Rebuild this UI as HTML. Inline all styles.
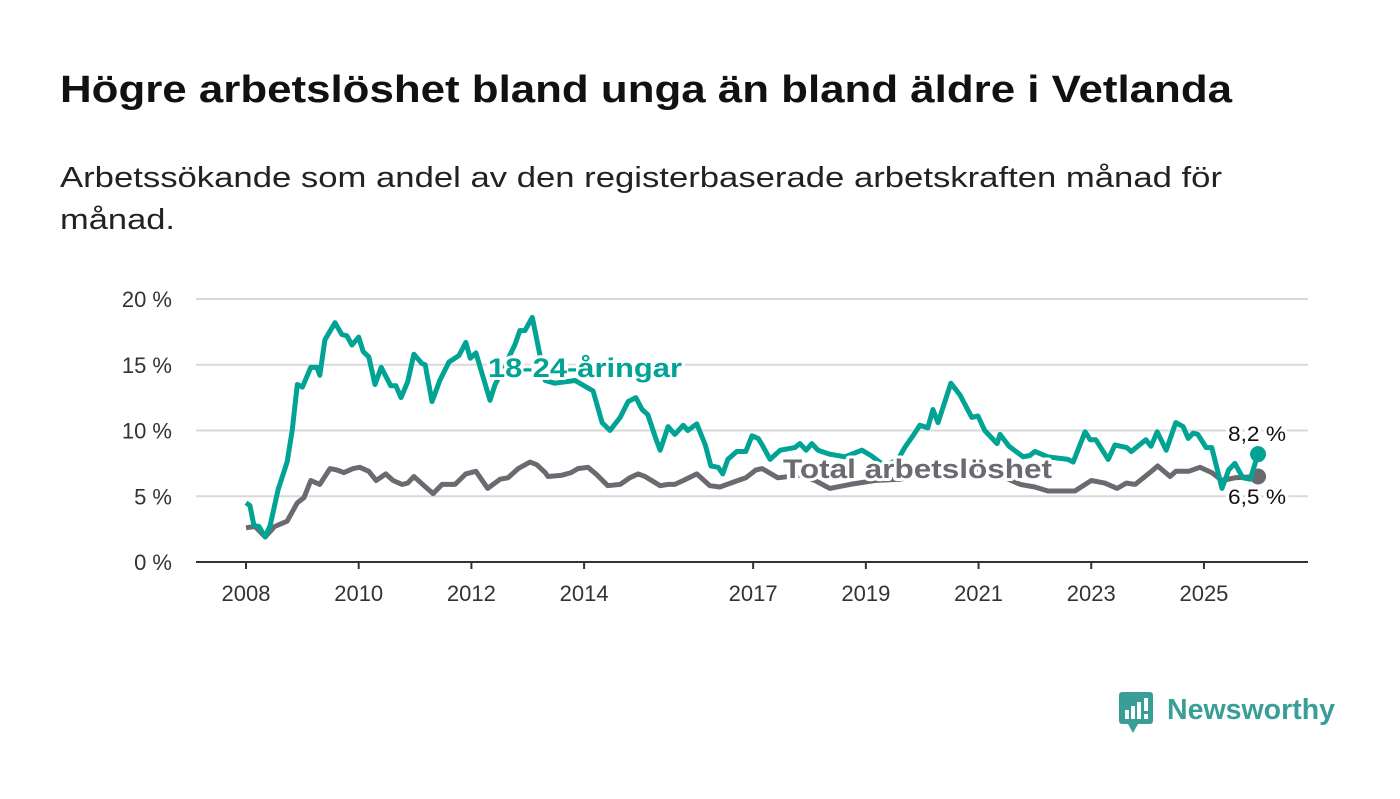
<!DOCTYPE html>
<html><head><meta charset="utf-8"><style>
body{margin:0;background:#fff;width:1400px;height:794px;overflow:hidden;font-family:"Liberation Sans","DejaVu Sans",sans-serif}
</style></head><body>
<svg width="1400" height="794" xmlns="http://www.w3.org/2000/svg">
<text x="60" y="102" font-size="38" font-weight="bold" fill="#111" textLength="1172" lengthAdjust="spacingAndGlyphs">Högre arbetslöshet bland unga än bland äldre i Vetlanda</text>
<text x="60" y="187" font-size="29" fill="#222" textLength="1162" lengthAdjust="spacingAndGlyphs">Arbetssökande som andel av den registerbaserade arbetskraften månad för</text>
<text x="60" y="229" font-size="29" fill="#222" textLength="115" lengthAdjust="spacingAndGlyphs">månad.</text>
<g id="grid"></g><g id="series"></g><g id="labels"></g>
<g>
<rect x="1119" y="692" width="34" height="32" rx="3" fill="#3a9e98"/>
<polygon points="1128,724 1138,724 1133,733" fill="#3a9e98"/>
<rect x="1125" y="710" width="4" height="9" fill="#fff"/><rect x="1131" y="706" width="4" height="13" fill="#fff"/><rect x="1137" y="702" width="4" height="17" fill="#fff"/><rect x="1144" y="698" width="4" height="13" fill="#fff"/><rect x="1144" y="714" width="4" height="5" fill="#fff"/>
<text x="1167" y="719" font-size="29" font-weight="bold" fill="#3a9e98" textLength="168" lengthAdjust="spacingAndGlyphs">Newsworthy</text>
</g>
</svg>
<script>
const yTicks=[0,5,10,15,20];
const yTickLabels=["0 %","5 %","10 %","15 %","20 %"];
const xTicks=[2008,2010,2012,2014,2017,2019,2021,2023,2025];
const youthDates=[2008.0,2008.07,2008.14,2008.23,2008.34,2008.43,2008.57,2008.73,2008.82,2008.91,2009.0,2009.15,2009.26,2009.31,2009.4,2009.58,2009.7,2009.79,2009.88,2010.0,2010.08,2010.18,2010.29,2010.4,2010.57,2010.66,2010.75,2010.87,2010.98,2011.12,2011.18,2011.3,2011.44,2011.6,2011.78,2011.9,2011.98,2012.08,2012.33,2012.42,2012.6,2012.77,2012.86,2012.95,2013.08,2013.18,2013.31,2013.48,2013.84,2014.16,2014.32,2014.46,2014.64,2014.78,2014.92,2015.03,2015.13,2015.28,2015.35,2015.49,2015.61,2015.76,2015.84,2016.0,2016.15,2016.25,2016.38,2016.46,2016.55,2016.71,2016.87,2016.98,2017.09,2017.16,2017.3,2017.48,2017.74,2017.83,2017.94,2018.04,2018.15,2018.36,2018.63,2018.93,2019.09,2019.34,2019.57,2019.69,2019.82,2019.96,2020.1,2020.19,2020.28,2020.32,2020.51,2020.67,2020.88,2020.99,2021.11,2021.33,2021.38,2021.54,2021.79,2021.91,2022.0,2022.23,2022.41,2022.59,2022.68,2022.89,2022.98,2023.08,2023.3,2023.42,2023.63,2023.71,2023.97,2024.06,2024.17,2024.33,2024.5,2024.63,2024.72,2024.81,2024.89,2025.04,2025.14,2025.32,2025.44,2025.55,2025.69,2025.82,2025.96];
const youthValues=[4.5,4.3,2.8,2.7,1.9,2.8,5.5,7.6,10,13.5,13.3,14.8,14.8,14.2,16.9,18.2,17.3,17.2,16.5,17.1,16,15.6,13.5,14.8,13.4,13.4,12.5,13.7,15.8,15.1,15,12.2,13.8,15.2,15.7,16.7,15.5,15.9,12.3,13.5,15,16.5,17.6,17.6,18.6,16.5,13.8,13.6,13.8,13,10.6,10,11,12.2,12.5,11.6,11.2,9.3,8.5,10.3,9.7,10.4,10,10.5,8.9,7.3,7.2,6.7,7.8,8.4,8.4,9.6,9.4,8.9,7.8,8.5,8.7,9,8.5,9,8.5,8.2,8,8.5,8.1,7.3,7.8,8.7,9.5,10.4,10.2,11.6,10.6,11.1,13.6,12.7,11,11.1,10,9,9.7,8.8,8,8.1,8.4,8,7.9,7.8,7.6,9.9,9.3,9.3,7.8,8.9,8.7,8.4,9.3,8.8,9.9,8.5,10.6,10.3,9.4,9.8,9.7,8.7,8.7,5.6,7,7.5,6.4,6.3,8.2];
const totalDates=[2008.0,2008.16,2008.34,2008.51,2008.73,2008.91,2009.03,2009.15,2009.31,2009.49,2009.61,2009.74,2009.9,2010.02,2010.18,2010.31,2010.48,2010.61,2010.77,2010.87,2010.98,2011.16,2011.32,2011.48,2011.71,2011.9,2012.08,2012.29,2012.51,2012.65,2012.83,2013.04,2013.16,2013.31,2013.36,2013.61,2013.77,2013.89,2014.07,2014.21,2014.42,2014.64,2014.81,2014.96,2015.08,2015.35,2015.49,2015.61,2015.76,2016.0,2016.23,2016.41,2016.73,2016.87,2017.05,2017.16,2017.44,2017.83,2018.1,2018.36,2018.72,2019.16,2019.61,2020.05,2020.49,2020.85,2021.38,2021.74,2022.0,2022.23,2022.45,2022.71,2023.0,2023.24,2023.46,2023.62,2023.78,2024.04,2024.18,2024.4,2024.5,2024.73,2024.93,2025.14,2025.32,2025.55,2025.96];
const totalValues=[2.6,2.7,1.9,2.7,3.1,4.5,4.9,6.2,5.9,7.1,7,6.8,7.1,7.2,6.9,6.2,6.7,6.2,5.9,6,6.5,5.8,5.2,5.9,5.9,6.7,6.9,5.6,6.3,6.4,7.1,7.6,7.4,6.8,6.5,6.6,6.8,7.1,7.2,6.7,5.8,5.9,6.4,6.7,6.5,5.8,5.9,5.9,6.2,6.7,5.8,5.7,6.2,6.4,7,7.1,6.4,6.6,6.2,5.6,5.9,6.2,6.3,6.8,7.5,7.2,6.6,5.9,5.7,5.4,5.4,5.4,6.2,6,5.6,6,5.9,6.8,7.3,6.5,6.9,6.9,7.2,6.8,6.2,6.4,6.5];
const NS="http://www.w3.org/2000/svg";
const X=y=>246+(y-2008)*56.35, Y=v=>562-v*13.15;
function mk(p,t,a){const e=document.createElementNS(NS,t);for(const k in a)e.setAttribute(k,a[k]);p.appendChild(e);return e;}
const grid=document.getElementById('grid'),ser=document.getElementById('series'),lab=document.getElementById('labels');
yTicks.forEach((t,i)=>{
 if(t>0){const g=mk(grid,'line',{x1:196,x2:1308,y1:Y(t),y2:Y(t),stroke:'#d9d9d9','stroke-width':2});
 
 }
 const l=mk(grid,'text',{x:172,y:Y(t)+8,'text-anchor':'end','font-size':22,fill:'#333'});l.textContent=yTickLabels[i];
 
 
});
const ax=mk(grid,'line',{x1:196,x2:1308,y1:562,y2:562,stroke:'#333','stroke-width':2});


xTicks.forEach(t=>{
 const tk=mk(grid,'line',{x1:X(t),x2:X(t),y1:562,y2:569,stroke:'#333','stroke-width':2});
 
 
 const l=mk(grid,'text',{x:X(t),y:601,'text-anchor':'middle','font-size':22,fill:'#333'});l.textContent=t;
 
 
});
function line(d,v,c,name){
 const p=mk(ser,'path',{d:d.map((x,i)=>(i?'L':'M')+X(x).toFixed(1)+','+Y(v[i]).toFixed(1)).join(''),fill:'none',stroke:c,'stroke-width':5,'stroke-linejoin':'round'});
 
 
 const n=d.length-1;
 const dot=mk(ser,'circle',{cx:X(d[n]),cy:Y(v[n]),r:8,fill:c});
 
 
}
line(totalDates,totalValues,'#6b6a70','total-line');
line(youthDates,youthValues,'#00a394','youth-line');
function txt(x,y,s,c,sz,w,name,len){
 const t=mk(lab,'text',{x:x,y:y,'font-size':sz,'font-weight':w,fill:c,stroke:'#fff','stroke-width':6,'paint-order':'stroke','stroke-linejoin':'round',textLength:len,lengthAdjust:'spacingAndGlyphs'});
 t.textContent=s;
 
 
}
txt(488,377,'18-24-åringar','#00a394',27,'bold','youth-series-label',194);
txt(783,478,'Total arbetslöshet','#6b6a70',27,'bold','total-series-label',269);
txt(1228,441,'8,2 %','#111',21,'normal','youth-end-value',58);
txt(1228,504,'6,5 %','#111',21,'normal','total-end-value',58);
</script>
</body></html>
